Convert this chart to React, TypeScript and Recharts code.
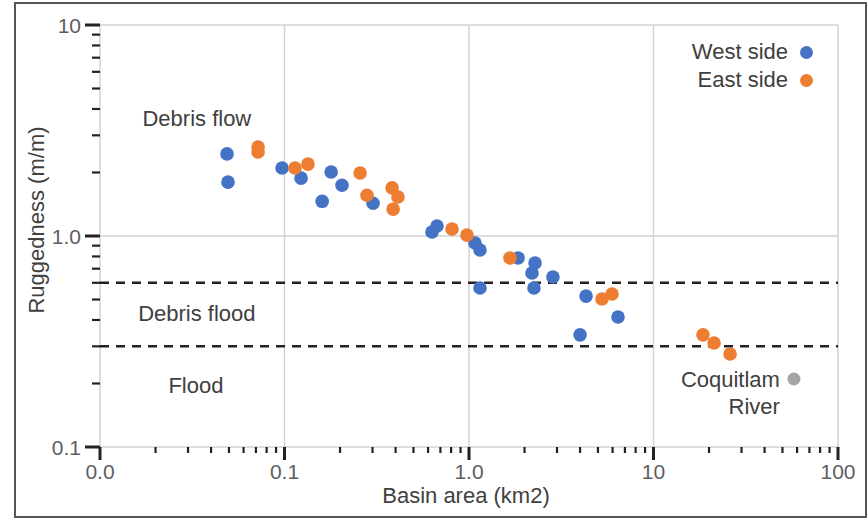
import React from 'react';
import {
  ScatterChart,
  Scatter,
  XAxis,
  YAxis,
  ReferenceLine,
  ReferenceDot,
  Legend,
} from 'recharts';

// ---------- data ----------
const westSide = [
  { area: 0.0488, rug: 2.45 },
  { area: 0.0494, rug: 1.8 },
  { area: 0.097, rug: 2.1 },
  { area: 0.123, rug: 1.88 },
  { area: 0.16, rug: 1.46 },
  { area: 0.179, rug: 2.01 },
  { area: 0.205, rug: 1.74 },
  { area: 0.302, rug: 1.43 },
  { area: 0.63, rug: 1.045 },
  { area: 0.671, rug: 1.115 },
  { area: 1.078, rug: 0.927 },
  { area: 1.147, rug: 0.858 },
  { area: 1.147, rug: 0.567 },
  { area: 1.844, rug: 0.787 },
  { area: 2.28, rug: 0.745 },
  { area: 2.195, rug: 0.668 },
  { area: 2.85, rug: 0.639 },
  { area: 2.25, rug: 0.567 },
  { area: 4.31, rug: 0.519 },
  { area: 4.0, rug: 0.34 },
  { area: 6.42, rug: 0.413 },
];

const eastSide = [
  { area: 0.0719, rug: 2.64 },
  { area: 0.0719, rug: 2.5 },
  { area: 0.114, rug: 2.1 },
  { area: 0.134, rug: 2.19 },
  { area: 0.257, rug: 1.99 },
  { area: 0.28, rug: 1.56 },
  { area: 0.383, rug: 1.69 },
  { area: 0.412, rug: 1.53 },
  { area: 0.388, rug: 1.34 },
  { area: 0.809, rug: 1.08 },
  { area: 0.975, rug: 1.01 },
  { area: 1.668, rug: 0.787 },
  { area: 5.26, rug: 0.503 },
  { area: 5.96, rug: 0.531 },
  { area: 18.55, rug: 0.34 },
  { area: 21.3, rug: 0.311 },
  { area: 26.0, rug: 0.276 },
];

const coquitlamRiver = [{ area: 57.7, rug: 0.21 }];
const coquitlamLabel = ['Coquitlam', 'River'];

const xMajorTicks = [0.01, 0.1, 1, 10, 100];
const xTickLabels = ['0.0', '0.1', '1.0', '10', '100'];
const yMajorTicks = [0.1, 1, 10];
const yTickLabels = ['0.1', '1.0', '10'];
const minorMultipliers = [2, 3, 4, 5, 6, 7, 8, 9];

const thresholds = [0.6, 0.3];

const zoneLabels = [
  { text: 'Debris flow', area: 0.0335, rug: 3.62 },
  { text: 'Debris flood', area: 0.0335, rug: 0.4315 },
  { text: 'Flood', area: 0.0331, rug: 0.197 },
];

const seriesNames = ['West side', 'East side'];
const seriesColors = ['#4472C4', '#ED7D31'];
const coquitlamColor = '#A5A5A5';

// ---------- helpers ----------
const FONT = '"Liberation Sans", Arial, Helvetica, sans-serif';
const TICK_COLOR = '#5e5e5e';
const TEXT_COLOR = '#404040';

const buildTicks = (majors: number[]) => {
  const minors: number[] = [];
  majors.slice(0, -1).forEach((d) => {
    minorMultipliers.forEach((m) => minors.push(Number((d * m).toPrecision(4))));
  });
  return [...majors, ...minors].sort((a, b) => a - b);
};

const xAllTicks = buildTicks(xMajorTicks);
const yAllTicks = buildTicks(yMajorTicks);

const majorIndex = (majors: number[], v: number) =>
  majors.findIndex((m) => Math.abs(Math.log10(m) - Math.log10(v)) < 1e-6);

const XTick = (props: any) => {
  const { x, y, payload } = props;
  const idx = majorIndex(xMajorTicks, payload.value);
  const major = idx >= 0;
  return (
    <g>
      <line
        x1={x}
        x2={x}
        y1={y}
        y2={y + (major ? 13 : 6)}
        stroke="#222"
        strokeWidth={major ? 3 : 2.2}
      />
      {major && (
        <text
          x={x}
          y={y + 32}
          textAnchor="middle"
          fontSize={21}
          fill={TICK_COLOR}
          fontFamily={FONT}
        >
          {xTickLabels[idx]}
        </text>
      )}
    </g>
  );
};

const YTick = (props: any) => {
  const { x, y, payload } = props;
  const idx = majorIndex(yMajorTicks, payload.value);
  const major = idx >= 0;
  return (
    <g>
      <line
        x1={x - (major ? 15 : 8)}
        x2={x}
        y1={y}
        y2={y}
        stroke="#222"
        strokeWidth={major ? 3 : 2.2}
      />
      {major && (
        <text
          x={x - 19}
          y={y}
          dy="0.36em"
          textAnchor="end"
          fontSize={21}
          fill={TICK_COLOR}
          fontFamily={FONT}
        >
          {yTickLabels[idx]}
        </text>
      )}
    </g>
  );
};

const makeDot = (color: string) => (p: any) =>
  <circle cx={p.cx} cy={p.cy} r={6.8} fill={color} />;

const CoquitlamShape = (p: any) => (
  <g>
    <circle cx={p.cx} cy={p.cy} r={6.5} fill={coquitlamColor} />
    {coquitlamLabel.map((t, i) => (
      <text
        key={t}
        x={p.cx - 14}
        y={p.cy + i * 27}
        dy="0.36em"
        textAnchor="end"
        fontSize={22}
        fill={TEXT_COLOR}
        fontFamily={FONT}
      >
        {t}
      </text>
    ))}
  </g>
);

const renderLegend = () => (
  <div style={{ display: 'flex', flexDirection: 'column', alignItems: 'flex-end' }}>
    {seriesNames.map((n, i) => (
      <div
        key={n}
        style={{ display: 'flex', alignItems: 'center', height: 28, lineHeight: '28px' }}
      >
        <span style={{ fontSize: 22, color: TEXT_COLOR, fontFamily: FONT }}>{n}</span>
        <span
          style={{
            display: 'inline-block',
            width: 13,
            height: 13,
            borderRadius: '50%',
            background: seriesColors[i],
            marginLeft: 12,
          }}
        />
      </div>
    ))}
  </div>
);

export default function App() {
  return (
    <div style={{ position: 'absolute', left: 0, top: 0, width: 868, height: 518, background: '#fff' }}>
      <div
        style={{
          position: 'absolute',
          left: 14,
          top: 2,
          width: 849,
          height: 512,
          border: '2px solid #555',
        }}
      />
      <ScatterChart
        width={868}
        height={518}
        margin={{ top: 25, right: 30, bottom: 0, left: 15 }}
      >
        <XAxis
          type="number"
          dataKey="area"
          scale="log"
          domain={[0.01, 100]}
          allowDataOverflow
          ticks={xAllTicks}
          interval={0}
          tick={XTick}
          tickLine={false}
          axisLine={false}
          tickSize={0}
          tickMargin={0}
          height={71}
          label={{
            content: () => (
              <text
                x={466}
                y={503}
                textAnchor="middle"
                fontSize={22}
                fill={TEXT_COLOR}
                fontFamily={FONT}
              >
                Basin area (km2)
              </text>
            ),
          }}
        />
        <YAxis
          type="number"
          dataKey="rug"
          scale="log"
          domain={[0.1, 10]}
          allowDataOverflow
          ticks={yAllTicks}
          interval={0}
          tick={YTick}
          tickLine={false}
          axisLine={false}
          tickSize={0}
          tickMargin={0}
          width={85}
          label={{
            content: () => (
              <text
                x={36}
                y={220}
                transform="rotate(-90 36 220)"
                textAnchor="middle"
                dy="0.36em"
                fontSize={22}
                fill={TEXT_COLOR}
                fontFamily={FONT}
              >
                Ruggedness (m/m)
              </text>
            ),
          }}
        />
        {xMajorTicks.map((v) => (
          <ReferenceLine
            key={'gx' + v}
            x={v}
            stroke="#d2d2d2"
            strokeWidth={1.5}
            ifOverflow="visible"
          />
        ))}
        {yMajorTicks.map((v) => (
          <ReferenceLine
            key={'gy' + v}
            y={v}
            stroke="#d2d2d2"
            strokeWidth={1.5}
            ifOverflow="visible"
          />
        ))}
        {thresholds.map((v) => (
          <ReferenceLine
            key={'th' + v}
            y={v}
            stroke="#222"
            strokeWidth={2.5}
            strokeDasharray="9 7"
            ifOverflow="visible"
          />
        ))}
        {zoneLabels.map((z) => (
          <ReferenceDot
            key={z.text}
            x={z.area}
            y={z.rug}
            r={0}
            ifOverflow="visible"
            shape={(p: any) => (
              <text
                x={p.cx}
                y={p.cy}
                dy="0.36em"
                textAnchor="middle"
                fontSize={22}
                fill={TEXT_COLOR}
                fontFamily={FONT}
              >
                {z.text}
              </text>
            )}
          />
        ))}
        <Scatter
          name={seriesNames[0]}
          data={westSide}
          fill={seriesColors[0]}
          shape={makeDot(seriesColors[0])}
          isAnimationActive={false}
        />
        <Scatter
          name={seriesNames[1]}
          data={eastSide}
          fill={seriesColors[1]}
          shape={makeDot(seriesColors[1])}
          isAnimationActive={false}
        />
        <Scatter
          name="Coquitlam River"
          data={coquitlamRiver}
          fill={coquitlamColor}
          shape={CoquitlamShape}
          legendType="none"
          isAnimationActive={false}
        />
        <Legend
          layout="vertical"
          align="center"
          verticalAlign="middle"
          content={renderLegend}
          wrapperStyle={{ left: 600, top: 38, width: 213, height: 56 }}
        />
      </ScatterChart>
    </div>
  );
}
